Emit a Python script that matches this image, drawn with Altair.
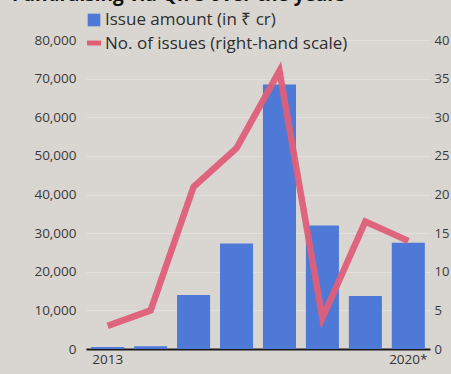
import altair as alt
import pandas as pd

years = ["2013", "2014", "2015", "2016", "2017", "2018", "2019", "2020*"]
issue_amount = [500, 700, 14000, 27300, 68500, 32000, 13700, 27500]
num_issues = [3, 5, 21, 26, 36, 4, 16.5, 14]

df = pd.DataFrame({"year": years, "amount": issue_amount, "issues": num_issues})

BG = "#d9d6d1"
BLUE = "#4f79d6"
RED = "#df5e78"
FONT = "Open Sans"

xenc = alt.X("year:N", sort=years,
             scale=alt.Scale(paddingInner=0.23, paddingOuter=0.12),
             axis=alt.Axis(title=None, labelExpr="datum.value == '2013' || datum.value == '2020*' ? datum.value : ''",
                           labelAngle=0, ticks=False, domain=True, domainColor="#1a1a1a", domainWidth=2,
                           labelFont=FONT, labelFontSize=13.5, labelColor="#333333", labelPadding=3))

bars = alt.Chart(df).mark_bar(color=BLUE).encode(
    x=xenc,
    y=alt.Y("amount:Q", scale=alt.Scale(domain=[0, 80000], nice=False),
            axis=alt.Axis(title=None, values=list(range(0, 80001, 10000)), format=",d",
                          ticks=False, domain=False, grid=True, gridColor="#e2e0dc", gridWidth=1,
                          labelFont=FONT, labelFontSize=13.5, labelColor="#3a3a3a", labelPadding=10)),
)

line = alt.Chart(df).mark_line(color=RED, strokeWidth=6.5, strokeJoin="miter", opacity=0.95).encode(
    x=alt.X("year:N", sort=years),
    y=alt.Y("issues:Q", scale=alt.Scale(domain=[0, 40], nice=False),
            axis=alt.Axis(title=None, orient="right", values=list(range(0, 41, 5)),
                          ticks=False, domain=False, grid=False,
                          labelFont=FONT, labelFontSize=13, labelColor="#3a3a3a", labelPadding=4)),
)

legend_sq = alt.Chart(df).mark_square(color=BLUE, size=160, opacity=1).encode(
    x=alt.value(8), y=alt.value(-20)
).transform_filter("datum.year == '2013'")
legend_ln = alt.Chart(df).mark_rule(color=RED, strokeWidth=5).encode(
    x=alt.value(1), x2=alt.value(15), y=alt.value(3)
).transform_filter("datum.year == '2013'")
legend_t1 = alt.Chart(df).mark_text(text="Issue amount (in ₹ cr)", align="left", baseline="middle",
                                    font=FONT, fontSize=17, color="#2e2e2e").encode(
    x=alt.value(19), y=alt.value(-20)
).transform_filter("datum.year == '2013'")
legend_t2 = alt.Chart(df).mark_text(text="No. of issues (right-hand scale)", align="left", baseline="middle",
                                    font=FONT, fontSize=17, color="#2e2e2e").encode(
    x=alt.value(19), y=alt.value(4)
).transform_filter("datum.year == '2013'")
title_t = alt.Chart(df).mark_text(text="Fundraising via QIPs over the years", align="left",
                                  baseline="alphabetic", font=FONT, fontSize=19, fontWeight="bold",
                                  color="#111111").encode(
    x=alt.value(-74), y=alt.value(-39)
).transform_filter("datum.year == '2013'")

chart = alt.layer(bars, line, legend_sq, legend_ln, legend_t1, legend_t2, title_t).resolve_scale(
    y="independent"
).properties(
    width=344, height=309,
    autosize=alt.AutoSizeParams(type="none"),
    padding={"left": 86, "top": 40, "right": 21, "bottom": 25},
    background=BG,
).configure_view(stroke=None)

chart.save("out.html", embed_options={"renderer": "svg", "actions": False})
